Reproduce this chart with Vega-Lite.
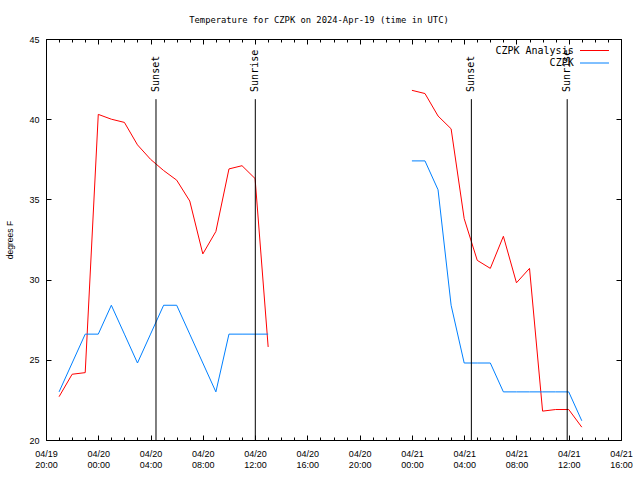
{
  "$schema": "https://vega.github.io/schema/vega-lite/v6.json",
  "width": 575,
  "height": 401,
  "autosize": {"type": "none"},
  "padding": {"left": 46, "top": 39, "right": 19, "bottom": 40},
  "background": "white",
  "title": {
    "text": "Temperature for CZPK on 2024-Apr-19 (time in UTC)",
    "font": "DejaVu Sans Mono",
    "fontSize": 8.8,
    "fontWeight": "normal",
    "color": "black",
    "anchor": "middle",
    "offset": 10,
    "dx": -14.5
  },
  "datasets": {
    "temps": [
      {"t": "2024-04-19T21:00:00Z", "series": "CZPK Analysis", "seg": "a1", "temp": 22.7},
      {"t": "2024-04-19T22:00:00Z", "series": "CZPK Analysis", "seg": "a1", "temp": 24.1},
      {"t": "2024-04-19T23:00:00Z", "series": "CZPK Analysis", "seg": "a1", "temp": 24.2},
      {"t": "2024-04-20T00:00:00Z", "series": "CZPK Analysis", "seg": "a1", "temp": 40.3},
      {"t": "2024-04-20T01:00:00Z", "series": "CZPK Analysis", "seg": "a1", "temp": 40.0},
      {"t": "2024-04-20T02:00:00Z", "series": "CZPK Analysis", "seg": "a1", "temp": 39.8},
      {"t": "2024-04-20T03:00:00Z", "series": "CZPK Analysis", "seg": "a1", "temp": 38.4},
      {"t": "2024-04-20T04:00:00Z", "series": "CZPK Analysis", "seg": "a1", "temp": 37.5},
      {"t": "2024-04-20T05:00:00Z", "series": "CZPK Analysis", "seg": "a1", "temp": 36.8},
      {"t": "2024-04-20T06:00:00Z", "series": "CZPK Analysis", "seg": "a1", "temp": 36.2},
      {"t": "2024-04-20T07:00:00Z", "series": "CZPK Analysis", "seg": "a1", "temp": 34.9},
      {"t": "2024-04-20T08:00:00Z", "series": "CZPK Analysis", "seg": "a1", "temp": 31.6},
      {"t": "2024-04-20T09:00:00Z", "series": "CZPK Analysis", "seg": "a1", "temp": 33.0},
      {"t": "2024-04-20T10:00:00Z", "series": "CZPK Analysis", "seg": "a1", "temp": 36.9},
      {"t": "2024-04-20T11:00:00Z", "series": "CZPK Analysis", "seg": "a1", "temp": 37.1},
      {"t": "2024-04-20T12:00:00Z", "series": "CZPK Analysis", "seg": "a1", "temp": 36.3},
      {"t": "2024-04-20T13:00:00Z", "series": "CZPK Analysis", "seg": "a1", "temp": 25.8},
      {"t": "2024-04-21T00:00:00Z", "series": "CZPK Analysis", "seg": "a2", "temp": 41.8},
      {"t": "2024-04-21T01:00:00Z", "series": "CZPK Analysis", "seg": "a2", "temp": 41.6},
      {"t": "2024-04-21T02:00:00Z", "series": "CZPK Analysis", "seg": "a2", "temp": 40.2},
      {"t": "2024-04-21T03:00:00Z", "series": "CZPK Analysis", "seg": "a2", "temp": 39.4},
      {"t": "2024-04-21T04:00:00Z", "series": "CZPK Analysis", "seg": "a2", "temp": 33.8},
      {"t": "2024-04-21T05:00:00Z", "series": "CZPK Analysis", "seg": "a2", "temp": 31.2},
      {"t": "2024-04-21T06:00:00Z", "series": "CZPK Analysis", "seg": "a2", "temp": 30.7},
      {"t": "2024-04-21T07:00:00Z", "series": "CZPK Analysis", "seg": "a2", "temp": 32.7},
      {"t": "2024-04-21T08:00:00Z", "series": "CZPK Analysis", "seg": "a2", "temp": 29.8},
      {"t": "2024-04-21T09:00:00Z", "series": "CZPK Analysis", "seg": "a2", "temp": 30.7},
      {"t": "2024-04-21T10:00:00Z", "series": "CZPK Analysis", "seg": "a2", "temp": 21.8},
      {"t": "2024-04-21T11:00:00Z", "series": "CZPK Analysis", "seg": "a2", "temp": 21.9},
      {"t": "2024-04-21T12:00:00Z", "series": "CZPK Analysis", "seg": "a2", "temp": 21.9},
      {"t": "2024-04-21T13:00:00Z", "series": "CZPK Analysis", "seg": "a2", "temp": 20.8},
      {"t": "2024-04-19T21:00:00Z", "series": "CZPK", "seg": "b1", "temp": 23.0},
      {"t": "2024-04-19T22:00:00Z", "series": "CZPK", "seg": "b1", "temp": 24.8},
      {"t": "2024-04-19T23:00:00Z", "series": "CZPK", "seg": "b1", "temp": 26.6},
      {"t": "2024-04-20T00:00:00Z", "series": "CZPK", "seg": "b1", "temp": 26.6},
      {"t": "2024-04-20T01:00:00Z", "series": "CZPK", "seg": "b1", "temp": 28.4},
      {"t": "2024-04-20T02:00:00Z", "series": "CZPK", "seg": "b1", "temp": 26.6},
      {"t": "2024-04-20T03:00:00Z", "series": "CZPK", "seg": "b1", "temp": 24.8},
      {"t": "2024-04-20T04:00:00Z", "series": "CZPK", "seg": "b1", "temp": 26.6},
      {"t": "2024-04-20T05:00:00Z", "series": "CZPK", "seg": "b1", "temp": 28.4},
      {"t": "2024-04-20T06:00:00Z", "series": "CZPK", "seg": "b1", "temp": 28.4},
      {"t": "2024-04-20T07:00:00Z", "series": "CZPK", "seg": "b1", "temp": 26.6},
      {"t": "2024-04-20T08:00:00Z", "series": "CZPK", "seg": "b1", "temp": 24.8},
      {"t": "2024-04-20T09:00:00Z", "series": "CZPK", "seg": "b1", "temp": 23.0},
      {"t": "2024-04-20T10:00:00Z", "series": "CZPK", "seg": "b1", "temp": 26.6},
      {"t": "2024-04-20T11:00:00Z", "series": "CZPK", "seg": "b1", "temp": 26.6},
      {"t": "2024-04-20T12:00:00Z", "series": "CZPK", "seg": "b1", "temp": 26.6},
      {"t": "2024-04-20T13:00:00Z", "series": "CZPK", "seg": "b1", "temp": 26.6},
      {"t": "2024-04-21T00:00:00Z", "series": "CZPK", "seg": "b2", "temp": 37.4},
      {"t": "2024-04-21T01:00:00Z", "series": "CZPK", "seg": "b2", "temp": 37.4},
      {"t": "2024-04-21T02:00:00Z", "series": "CZPK", "seg": "b2", "temp": 35.6},
      {"t": "2024-04-21T03:00:00Z", "series": "CZPK", "seg": "b2", "temp": 28.4},
      {"t": "2024-04-21T04:00:00Z", "series": "CZPK", "seg": "b2", "temp": 24.8},
      {"t": "2024-04-21T05:00:00Z", "series": "CZPK", "seg": "b2", "temp": 24.8},
      {"t": "2024-04-21T06:00:00Z", "series": "CZPK", "seg": "b2", "temp": 24.8},
      {"t": "2024-04-21T07:00:00Z", "series": "CZPK", "seg": "b2", "temp": 23.0},
      {"t": "2024-04-21T08:00:00Z", "series": "CZPK", "seg": "b2", "temp": 23.0},
      {"t": "2024-04-21T09:00:00Z", "series": "CZPK", "seg": "b2", "temp": 23.0},
      {"t": "2024-04-21T10:00:00Z", "series": "CZPK", "seg": "b2", "temp": 23.0},
      {"t": "2024-04-21T11:00:00Z", "series": "CZPK", "seg": "b2", "temp": 23.0},
      {"t": "2024-04-21T12:00:00Z", "series": "CZPK", "seg": "b2", "temp": 23.0},
      {"t": "2024-04-21T13:00:00Z", "series": "CZPK", "seg": "b2", "temp": 21.2}
    ],
    "sun": [
      {"t": "2024-04-20T04:25:00Z", "label": "Sunset"},
      {"t": "2024-04-20T12:01:00Z", "label": "Sunrise"},
      {"t": "2024-04-21T04:33:00Z", "label": "Sunset"},
      {"t": "2024-04-21T11:53:00Z", "label": "Sunrise"}
    ]
  },
  "layer": [
    {
      "data": {"name": "temps"},
      "mark": {"type": "line", "strokeWidth": 1},
      "encoding": {
        "x": {
          "field": "t", "type": "temporal",
          "scale": {"type": "utc", "domain": [{"year": 2024, "month": 4, "date": 19, "hours": 20, "utc": true}, {"year": 2024, "month": 4, "date": 21, "hours": 16, "utc": true}]},
          "axis": {
            "orient": "bottom", "title": null, "domain": false, "grid": false, "ticks": false,
            "values": [
              {"year": 2024, "month": 4, "date": 19, "hours": 20, "utc": true},
              {"year": 2024, "month": 4, "date": 20, "hours": 0, "utc": true},
              {"year": 2024, "month": 4, "date": 20, "hours": 4, "utc": true},
              {"year": 2024, "month": 4, "date": 20, "hours": 8, "utc": true},
              {"year": 2024, "month": 4, "date": 20, "hours": 12, "utc": true},
              {"year": 2024, "month": 4, "date": 20, "hours": 16, "utc": true},
              {"year": 2024, "month": 4, "date": 20, "hours": 20, "utc": true},
              {"year": 2024, "month": 4, "date": 21, "hours": 0, "utc": true},
              {"year": 2024, "month": 4, "date": 21, "hours": 4, "utc": true},
              {"year": 2024, "month": 4, "date": 21, "hours": 8, "utc": true},
              {"year": 2024, "month": 4, "date": 21, "hours": 12, "utc": true},
              {"year": 2024, "month": 4, "date": 21, "hours": 16, "utc": true}
            ],
            "labelExpr": "[utcFormat(datum.value, '%m/%d'), utcFormat(datum.value, '%H:%M')]",
            "labelFont": "Liberation Sans", "labelFontSize": 9, "labelColor": "black",
            "labelPadding": 9, "labelLineHeight": 11.7, "labelFlush": false, "labelOverlap": false
          }
        },
        "y": {
          "field": "temp", "type": "quantitative",
          "scale": {"domain": [20, 45], "nice": false, "zero": false},
          "axis": {
            "orient": "left", "values": [20, 25, 30, 35, 40, 45], "domain": false, "grid": false, "ticks": false,
            "labelFont": "Liberation Sans", "labelFontSize": 9, "labelColor": "black", "labelPadding": 7,
            "title": "degrees F", "titleFont": "Liberation Sans", "titleFontSize": 8.5, "titleFontWeight": "normal", "titleColor": "black", "titlePadding": 14
          }
        },
        "color": {
          "field": "series", "type": "nominal",
          "scale": {"domain": ["CZPK Analysis", "CZPK"], "range": ["#ff0000", "#0080ff"]},
          "legend": {
            "title": null, "orient": "none", "legendX": 543, "legendY": 6,
            "symbolType": "M-3,0H3", "symbolSize": 93.4, "symbolStrokeWidth": 1,
            "labelAlign": "right", "labelOffset": -26.3, "labelFont": "DejaVu Sans Mono", "labelFontSize": 10, "labelColor": "black",
            "padding": 0, "rowPadding": 1.5
          }
        },
        "detail": {"field": "seg"}
      }
    },
    {
      "data": {"name": "sun"},
      "mark": {"type": "rule", "color": "black", "strokeWidth": 1},
      "encoding": {
        "x": {
          "field": "t", "type": "temporal",
          "axis": {
            "orient": "bottom", "title": null, "labels": false, "domain": false, "grid": false,
            "values": [
              {"year": 2024, "month": 4, "date": 19, "hours": 20, "utc": true},
              {"year": 2024, "month": 4, "date": 20, "hours": 0, "utc": true},
              {"year": 2024, "month": 4, "date": 20, "hours": 4, "utc": true},
              {"year": 2024, "month": 4, "date": 20, "hours": 8, "utc": true},
              {"year": 2024, "month": 4, "date": 20, "hours": 12, "utc": true},
              {"year": 2024, "month": 4, "date": 20, "hours": 16, "utc": true},
              {"year": 2024, "month": 4, "date": 20, "hours": 20, "utc": true},
              {"year": 2024, "month": 4, "date": 21, "hours": 0, "utc": true},
              {"year": 2024, "month": 4, "date": 21, "hours": 4, "utc": true},
              {"year": 2024, "month": 4, "date": 21, "hours": 8, "utc": true},
              {"year": 2024, "month": 4, "date": 21, "hours": 12, "utc": true},
              {"year": 2024, "month": 4, "date": 21, "hours": 16, "utc": true}
            ],
            "tickColor": "black", "tickWidth": 1, "tickSize": -5
          }
        },
        "y": {
          "datum": 41.25, "type": "quantitative",
          "axis": {"orient": "left", "values": [20, 25, 30, 35, 40, 45], "labels": false, "domain": false, "grid": false, "title": null, "tickSize": -5, "tickColor": "black"}
        },
        "y2": {"datum": 20}
      }
    },
    {
      "data": {"name": "sun"},
      "mark": {"type": "text", "angle": 270, "align": "left", "baseline": "middle", "font": "DejaVu Sans Mono", "fontSize": 10, "color": "black"},
      "encoding": {
        "x": {
          "field": "t", "type": "temporal",
          "axis": {
            "orient": "top", "title": null, "labels": false, "domain": false, "grid": false,
            "values": [
              {"year": 2024, "month": 4, "date": 19, "hours": 20, "utc": true},
              {"year": 2024, "month": 4, "date": 20, "hours": 0, "utc": true},
              {"year": 2024, "month": 4, "date": 20, "hours": 4, "utc": true},
              {"year": 2024, "month": 4, "date": 20, "hours": 8, "utc": true},
              {"year": 2024, "month": 4, "date": 20, "hours": 12, "utc": true},
              {"year": 2024, "month": 4, "date": 20, "hours": 16, "utc": true},
              {"year": 2024, "month": 4, "date": 20, "hours": 20, "utc": true},
              {"year": 2024, "month": 4, "date": 21, "hours": 0, "utc": true},
              {"year": 2024, "month": 4, "date": 21, "hours": 4, "utc": true},
              {"year": 2024, "month": 4, "date": 21, "hours": 8, "utc": true},
              {"year": 2024, "month": 4, "date": 21, "hours": 12, "utc": true},
              {"year": 2024, "month": 4, "date": 21, "hours": 16, "utc": true}
            ],
            "tickColor": "black", "tickWidth": 1, "tickSize": -5
          }
        },
        "y": {
          "datum": 41.7, "type": "quantitative",
          "axis": {"orient": "right", "values": [20, 25, 30, 35, 40, 45], "labels": false, "domain": false, "grid": false, "title": null, "tickSize": -5, "tickColor": "black"}
        },
        "text": {"field": "label"}
      }
    },
    {
      "data": {"name": "sun"},
      "mark": {"type": "rule", "opacity": 0},
      "encoding": {
        "x": {
          "field": "t", "type": "temporal",
          "axis": {
            "orient": "bottom", "title": null, "labels": false, "domain": false, "grid": false,
            "values": [
              {"year": 2024, "month": 4, "date": 19, "hours": 20, "utc": true},
              {"year": 2024, "month": 4, "date": 19, "hours": 21, "utc": true},
              {"year": 2024, "month": 4, "date": 19, "hours": 22, "utc": true},
              {"year": 2024, "month": 4, "date": 19, "hours": 23, "utc": true},
              {"year": 2024, "month": 4, "date": 20, "hours": 0, "utc": true},
              {"year": 2024, "month": 4, "date": 20, "hours": 1, "utc": true},
              {"year": 2024, "month": 4, "date": 20, "hours": 2, "utc": true},
              {"year": 2024, "month": 4, "date": 20, "hours": 3, "utc": true},
              {"year": 2024, "month": 4, "date": 20, "hours": 4, "utc": true},
              {"year": 2024, "month": 4, "date": 20, "hours": 5, "utc": true},
              {"year": 2024, "month": 4, "date": 20, "hours": 6, "utc": true},
              {"year": 2024, "month": 4, "date": 20, "hours": 7, "utc": true},
              {"year": 2024, "month": 4, "date": 20, "hours": 8, "utc": true},
              {"year": 2024, "month": 4, "date": 20, "hours": 9, "utc": true},
              {"year": 2024, "month": 4, "date": 20, "hours": 10, "utc": true},
              {"year": 2024, "month": 4, "date": 20, "hours": 11, "utc": true},
              {"year": 2024, "month": 4, "date": 20, "hours": 12, "utc": true},
              {"year": 2024, "month": 4, "date": 20, "hours": 13, "utc": true},
              {"year": 2024, "month": 4, "date": 20, "hours": 14, "utc": true},
              {"year": 2024, "month": 4, "date": 20, "hours": 15, "utc": true},
              {"year": 2024, "month": 4, "date": 20, "hours": 16, "utc": true},
              {"year": 2024, "month": 4, "date": 20, "hours": 17, "utc": true},
              {"year": 2024, "month": 4, "date": 20, "hours": 18, "utc": true},
              {"year": 2024, "month": 4, "date": 20, "hours": 19, "utc": true},
              {"year": 2024, "month": 4, "date": 20, "hours": 20, "utc": true},
              {"year": 2024, "month": 4, "date": 20, "hours": 21, "utc": true},
              {"year": 2024, "month": 4, "date": 20, "hours": 22, "utc": true},
              {"year": 2024, "month": 4, "date": 20, "hours": 23, "utc": true},
              {"year": 2024, "month": 4, "date": 21, "hours": 0, "utc": true},
              {"year": 2024, "month": 4, "date": 21, "hours": 1, "utc": true},
              {"year": 2024, "month": 4, "date": 21, "hours": 2, "utc": true},
              {"year": 2024, "month": 4, "date": 21, "hours": 3, "utc": true},
              {"year": 2024, "month": 4, "date": 21, "hours": 4, "utc": true},
              {"year": 2024, "month": 4, "date": 21, "hours": 5, "utc": true},
              {"year": 2024, "month": 4, "date": 21, "hours": 6, "utc": true},
              {"year": 2024, "month": 4, "date": 21, "hours": 7, "utc": true},
              {"year": 2024, "month": 4, "date": 21, "hours": 8, "utc": true},
              {"year": 2024, "month": 4, "date": 21, "hours": 9, "utc": true},
              {"year": 2024, "month": 4, "date": 21, "hours": 10, "utc": true},
              {"year": 2024, "month": 4, "date": 21, "hours": 11, "utc": true},
              {"year": 2024, "month": 4, "date": 21, "hours": 12, "utc": true},
              {"year": 2024, "month": 4, "date": 21, "hours": 13, "utc": true},
              {"year": 2024, "month": 4, "date": 21, "hours": 14, "utc": true},
              {"year": 2024, "month": 4, "date": 21, "hours": 15, "utc": true},
              {"year": 2024, "month": 4, "date": 21, "hours": 16, "utc": true}
            ],
            "tickColor": "black", "tickWidth": 1, "tickSize": -3
          }
        }
      }
    },
    {
      "data": {"name": "sun"},
      "mark": {"type": "rule", "opacity": 0},
      "encoding": {
        "x": {
          "field": "t", "type": "temporal",
          "axis": {
            "orient": "top", "title": null, "labels": false, "domain": false, "grid": false,
            "values": [
              {"year": 2024, "month": 4, "date": 19, "hours": 20, "utc": true},
              {"year": 2024, "month": 4, "date": 19, "hours": 21, "utc": true},
              {"year": 2024, "month": 4, "date": 19, "hours": 22, "utc": true},
              {"year": 2024, "month": 4, "date": 19, "hours": 23, "utc": true},
              {"year": 2024, "month": 4, "date": 20, "hours": 0, "utc": true},
              {"year": 2024, "month": 4, "date": 20, "hours": 1, "utc": true},
              {"year": 2024, "month": 4, "date": 20, "hours": 2, "utc": true},
              {"year": 2024, "month": 4, "date": 20, "hours": 3, "utc": true},
              {"year": 2024, "month": 4, "date": 20, "hours": 4, "utc": true},
              {"year": 2024, "month": 4, "date": 20, "hours": 5, "utc": true},
              {"year": 2024, "month": 4, "date": 20, "hours": 6, "utc": true},
              {"year": 2024, "month": 4, "date": 20, "hours": 7, "utc": true},
              {"year": 2024, "month": 4, "date": 20, "hours": 8, "utc": true},
              {"year": 2024, "month": 4, "date": 20, "hours": 9, "utc": true},
              {"year": 2024, "month": 4, "date": 20, "hours": 10, "utc": true},
              {"year": 2024, "month": 4, "date": 20, "hours": 11, "utc": true},
              {"year": 2024, "month": 4, "date": 20, "hours": 12, "utc": true},
              {"year": 2024, "month": 4, "date": 20, "hours": 13, "utc": true},
              {"year": 2024, "month": 4, "date": 20, "hours": 14, "utc": true},
              {"year": 2024, "month": 4, "date": 20, "hours": 15, "utc": true},
              {"year": 2024, "month": 4, "date": 20, "hours": 16, "utc": true},
              {"year": 2024, "month": 4, "date": 20, "hours": 17, "utc": true},
              {"year": 2024, "month": 4, "date": 20, "hours": 18, "utc": true},
              {"year": 2024, "month": 4, "date": 20, "hours": 19, "utc": true},
              {"year": 2024, "month": 4, "date": 20, "hours": 20, "utc": true},
              {"year": 2024, "month": 4, "date": 20, "hours": 21, "utc": true},
              {"year": 2024, "month": 4, "date": 20, "hours": 22, "utc": true},
              {"year": 2024, "month": 4, "date": 20, "hours": 23, "utc": true},
              {"year": 2024, "month": 4, "date": 21, "hours": 0, "utc": true},
              {"year": 2024, "month": 4, "date": 21, "hours": 1, "utc": true},
              {"year": 2024, "month": 4, "date": 21, "hours": 2, "utc": true},
              {"year": 2024, "month": 4, "date": 21, "hours": 3, "utc": true},
              {"year": 2024, "month": 4, "date": 21, "hours": 4, "utc": true},
              {"year": 2024, "month": 4, "date": 21, "hours": 5, "utc": true},
              {"year": 2024, "month": 4, "date": 21, "hours": 6, "utc": true},
              {"year": 2024, "month": 4, "date": 21, "hours": 7, "utc": true},
              {"year": 2024, "month": 4, "date": 21, "hours": 8, "utc": true},
              {"year": 2024, "month": 4, "date": 21, "hours": 9, "utc": true},
              {"year": 2024, "month": 4, "date": 21, "hours": 10, "utc": true},
              {"year": 2024, "month": 4, "date": 21, "hours": 11, "utc": true},
              {"year": 2024, "month": 4, "date": 21, "hours": 12, "utc": true},
              {"year": 2024, "month": 4, "date": 21, "hours": 13, "utc": true},
              {"year": 2024, "month": 4, "date": 21, "hours": 14, "utc": true},
              {"year": 2024, "month": 4, "date": 21, "hours": 15, "utc": true},
              {"year": 2024, "month": 4, "date": 21, "hours": 16, "utc": true}
            ],
            "tickColor": "black", "tickWidth": 1, "tickSize": -3
          }
        }
      }
    }
  ],
  "resolve": {"axis": {"x": "independent", "y": "independent"}},
  "config": {
    "view": {"stroke": "black", "strokeWidth": 1},
    "axis": {"domain": false}
  }
}
